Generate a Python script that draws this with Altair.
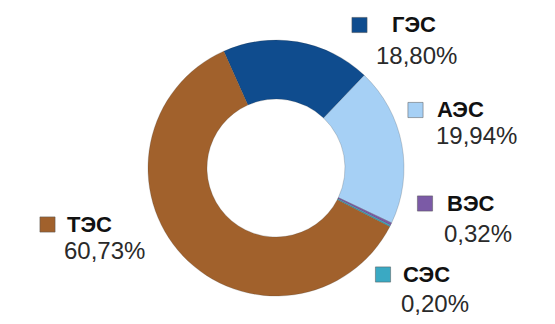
import altair as alt
import pandas as pd

# Data
names = ["ГЭС", "АЭС", "ВЭС", "СЭС", "ТЭС"]
shares = [18.80, 19.94, 0.32, 0.20, 60.73]
pct_labels = ["18,80%", "19,94%", "0,32%", "0,20%", "60,73%"]
colors = ["#0f4c8e", "#a6d0f5", "#7b5aa6", "#3aa9c3", "#a1612c"]

# Layout (chart coordinates) for labels: marker centre, name anchor, percent anchor
marker_x = [351.5, 407.5, 417, 375, 39.5]
marker_y = [17, 102, 195.5, 266.5, 216.5]
name_x = [384, 429, 439, 395, 59]
name_y = [24, 109, 203, 274, 224]
pct_x = [368, 428, 436, 393, 56]
pct_y = [56, 136, 234, 304, 251]

W, H = 539, 308
CX, CY = 268, 160
START = -0.42  # radians, start angle of first slice

df = pd.DataFrame({
    "name": names, "share": shares, "pct": pct_labels, "idx": list(range(len(names))),
    "mx": marker_x, "my": marker_y, "nx": name_x, "ny": name_y, "px": pct_x, "py": pct_y,
})

color_scale = alt.Scale(domain=names, range=colors)
FONT = "Liberation Sans, Arial"

base = alt.Chart(df)

arcs = base.mark_arc(outerRadius=128, innerRadius=69, stroke="#333333", strokeWidth=0.4, strokeOpacity=0.5).encode(
    theta=alt.Theta("share:Q", stack=True,
                    scale=alt.Scale(range=[START, START + 2 * 3.141592653589793])),
    color=alt.Color("name:N", scale=color_scale, legend=None),
    order=alt.Order("idx:Q"),
    x=alt.value(CX),
    y=alt.value(CY),
)

markers = base.mark_square(size=230, opacity=1, stroke="#555555", strokeWidth=0.5).encode(
    x=alt.X("mx:Q", scale=None),
    y=alt.Y("my:Q", scale=None),
    color=alt.Color("name:N", scale=color_scale, legend=None),
)

name_text = base.mark_text(align="left", baseline="alphabetic", font=FONT,
                           fontSize=22, fontWeight="bold", color="#111111").encode(
    x=alt.X("nx:Q", scale=None),
    y=alt.Y("ny:Q", scale=None),
    text="name:N",
)

pct_text = base.mark_text(align="left", baseline="alphabetic", font=FONT,
                          fontSize=24, color="#2a2a2a").encode(
    x=alt.X("px:Q", scale=None),
    y=alt.Y("py:Q", scale=None),
    text="pct:N",
)

chart = alt.layer(arcs, markers, name_text, pct_text).properties(
    width=W, height=H, padding=0, background="white",
    autosize=alt.AutoSizeParams(type="none"),
).configure_view(stroke=None, strokeWidth=0)

chart.save("out.html", embed_options={"renderer": "svg", "actions": False})
